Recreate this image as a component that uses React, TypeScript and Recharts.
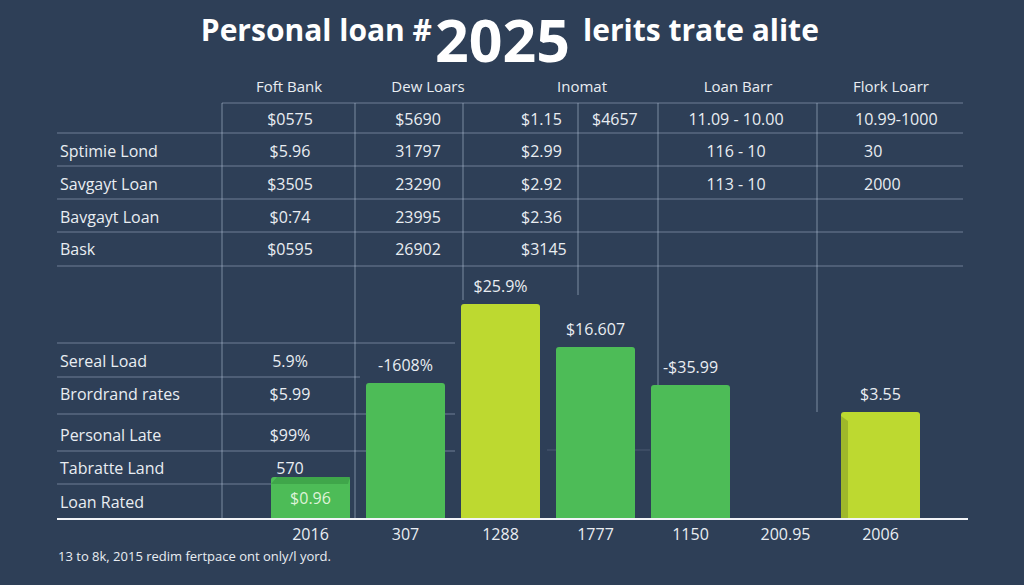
import React from 'react';
import { BarChart, Bar, XAxis, YAxis, Cell, LabelList } from 'recharts';

// bar chart values (arbitrary units)
const years = ['2016', '307', '1288', '1777', '1150', '200.95', '2006'];
const heights = [42, 136, 215, 172, 134, 0, 107];
const barLabels = ['$0.96', '-1608%', '$25.9%', '$16.607', '-$35.99', '', '$3.55'];
const highlighted = [false, false, true, false, false, false, true];

// upper table
const topHeaders = ['Foft Bank', 'Dew Loars', 'Inomat', 'Loan Barr', 'Flork Loarr'];
const topRowLabels = ['', 'Sptimie Lond', 'Savgayt Loan', 'Bavgayt Loan', 'Bask'];
const foftBank = ['$0575', '$5.96', '$3505', '$0:74', '$0595'];
const dewLoars = ['$5690', '31797', '23290', '23995', '26902'];
const inomat = ['$1.15', '$2.99', '$2.92', '$2.36', '$3145'];
const inomatExtra = ['$4657', '', '', '', ''];
const loanBarr = ['11.09 - 10.00', '116 - 10', '113 - 10', '', ''];
const florkLoarr = ['10.99-1000', '30', '2000', '', ''];

// lower table
const lowerLabels = ['Sereal Load', 'Brordrand rates', 'Personal Late', 'Tabratte Land', 'Loan Rated'];
const lowerValues = ['5.9%', '$5.99', '$99%', '570', ''];

const footnote = '13 to 8k, 2015 redim fertpace ont only/l yord.';

const BG = '#2e3f57';
const GREEN = '#4dbc57';
const LIME = '#bdd930';
const GRID = 'rgba(190, 206, 226, 0.45)';
const TEXT = '#e9edf2';
const FONT = '"Open Sans", "DejaVu Sans", sans-serif';

const chartData = years.map((year, i) => ({
  year,
  value: heights[i],
  topLabel: i === 0 || !barLabels[i] ? undefined : barLabels[i],
  insideLabel: i === 0 ? barLabels[i] : undefined,
}));

const BarShape = (props: any) => {
  const { x, y, width, height, fill, index } = props;
  if (!height || height <= 0) return null;
  const r = 3;
  const d = `M${x},${y + height} L${x},${y + r} Q${x},${y} ${x + r},${y} L${x + width - r},${y} Q${x + width},${y} ${x + width},${y + r} L${x + width},${y + height} Z`;
  return (
    <g>
      <path d={d} fill={fill} />
      {index === 0 && (
        <polygon
          points={`${x},${y + 7} ${x + 6},${y} ${x + width},${y} ${x + width - 2},${y + 7}`}
          fill="#3fa64a"
        />
      )}
      {index === years.length - 1 && (
        <polygon
          points={`${x},${y + 4} ${x + 7},${y + 9} ${x + 7},${y + height} ${x},${y + height}`}
          fill="#9fb82a"
        />
      )}
    </g>
  );
};

const rowY = [119, 151, 184, 217, 249];
const lowerY = [361, 394, 435, 468, 502];

const TableLayer = () => (
  <svg width={1024} height={585} style={{ position: 'absolute', left: 0, top: 0 }}>
    {/* title */}
    <text x={432} y={41} textAnchor="end" fill="#fff" fontFamily={FONT} fontWeight={700} fontSize={30}>
      Personal loan #
    </text>
    <text x={435} y={62} fill="#fff" fontFamily={FONT} fontWeight={700} fontSize={59}>
      2025
    </text>
    <text x={583} y={41} fill="#fff" fontFamily={FONT} fontWeight={700} fontSize={30}>
      lerits trate alite
    </text>

    {/* grid */}
    <line x1={222} y1={103} x2={963} y2={103} stroke={GRID} strokeWidth={1.2} />
    {[133, 166, 199, 232, 266].map((y) => (
      <line key={y} x1={57} y1={y} x2={963} y2={y} stroke={GRID} strokeWidth={1.2} />
    ))}
    <line x1={57} y1={343} x2={455} y2={343} stroke={GRID} strokeWidth={1.2} />
    <line x1={57} y1={377} x2={360} y2={377} stroke={GRID} strokeWidth={1.2} />
    <line x1={57} y1={414} x2={455} y2={414} stroke={GRID} strokeWidth={1.2} />
    <line x1={57} y1={451} x2={455} y2={451} stroke={GRID} strokeWidth={1.2} />
    <line x1={57} y1={484} x2={330} y2={484} stroke={GRID} strokeWidth={1.2} />
    <line x1={547} y1={450} x2={650} y2={450} stroke="rgba(190,206,226,0.2)" strokeWidth={1} />
    <line x1={222} y1={103} x2={222} y2={519} stroke={GRID} strokeWidth={1.2} />
    <line x1={355} y1={103} x2={355} y2={519} stroke={GRID} strokeWidth={1.2} />
    <line x1={463} y1={103} x2={463} y2={300} stroke={GRID} strokeWidth={1.2} />
    <line x1={578} y1={103} x2={578} y2={295} stroke={GRID} strokeWidth={1.2} />
    <line x1={658} y1={103} x2={658} y2={420} stroke={GRID} strokeWidth={1.2} />
    <line x1={817} y1={103} x2={817} y2={412} stroke={GRID} strokeWidth={1.2} />

    {/* headers */}
    {topHeaders.map((h, i) => (
      <text key={h} x={[289, 428, 582, 738, 891][i]} y={92} textAnchor="middle" fill={TEXT} fontFamily={FONT} fontSize={15}>
        {h}
      </text>
    ))}

    {/* upper rows */}
    {topRowLabels.map((label, i) => (
      <g key={i} fontFamily={FONT} fontSize={16} fill={TEXT}>
        <text x={60} y={rowY[i] + 6}>{label}</text>
        <text x={290} y={rowY[i] + 6} textAnchor="middle">{foftBank[i]}</text>
        <text x={418} y={rowY[i] + 6} textAnchor="middle">{dewLoars[i]}</text>
        <text x={521} y={rowY[i] + 6}>{inomat[i]}</text>
        <text x={592} y={rowY[i] + 6}>{inomatExtra[i]}</text>
        <text x={736} y={rowY[i] + 6} textAnchor="middle">{loanBarr[i]}</text>
        <text x={i === 0 ? 855 : 864} y={rowY[i] + 6}>{florkLoarr[i]}</text>
      </g>
    ))}

    {/* lower rows */}
    {lowerLabels.map((label, i) => (
      <g key={label} fontFamily={FONT} fontSize={16} fill={TEXT}>
        <text x={60} y={lowerY[i] + 6}>{label}</text>
        <text x={290} y={lowerY[i] + 6} textAnchor="middle">{lowerValues[i]}</text>
      </g>
    ))}

    <text x={58} y={561} fill={TEXT} fontFamily={FONT} fontSize={13}>
      {footnote}
    </text>
  </svg>
);

export default function App() {
  return (
    <div style={{ position: 'absolute', left: 0, top: 0, width: 1024, height: 585, background: BG, overflow: 'hidden' }}>
      <TableLayer />
      <div style={{ position: 'absolute', left: 0, top: 0 }}>
        <BarChart width={1024} height={585} data={chartData} margin={{ top: 269, right: 56, bottom: 36, left: 57 }}>
          <XAxis
            dataKey="year"
            padding={{ left: 206, right: 40 }}
            axisLine={{ stroke: '#f2f4f7', strokeWidth: 2 }}
            tickLine={false}
            tick={{ fill: TEXT, fontSize: 16, fontFamily: FONT }}
            tickMargin={4}
            interval={0}
          />
          <YAxis hide domain={[0, 250]} />
          <Bar dataKey="value" barSize={79} shape={BarShape} isAnimationActive={false}>
            {chartData.map((d, i) => (
              <Cell key={d.year} fill={highlighted[i] ? LIME : GREEN} />
            ))}
            <LabelList dataKey="topLabel" position="top" offset={12} fill={TEXT} fontSize={16} fontFamily={FONT} />
            <LabelList dataKey="insideLabel" position="center" fill="#dff3d8" fontSize={16} fontFamily={FONT} />
          </Bar>
        </BarChart>
      </div>
    </div>
  );
}
